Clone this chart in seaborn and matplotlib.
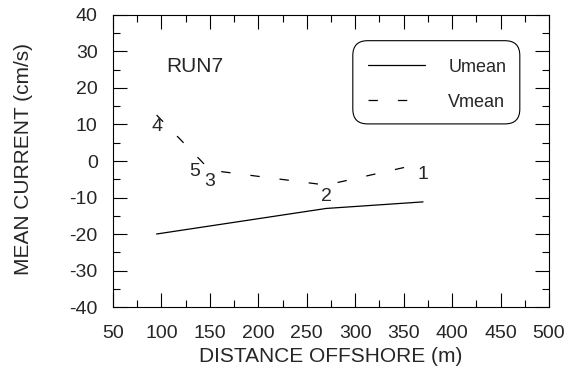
import matplotlib
matplotlib.use("Agg")
import matplotlib.pyplot as plt
from matplotlib.patches import FancyBboxPatch
from matplotlib.ticker import MultipleLocator
import pandas as pd
import seaborn as sns

# Station measurements for RUN7
stations = ["4", "5", "3", "2", "1"]
distance = [95, 140, 150, 270, 370]          # distance offshore (m)
umean = [-20.0, -18.2, -17.8, -13.0, -11.2]  # cm/s
vmean = [12.6, 0.3, -2.5, -6.6, -0.6]        # cm/s

x_ticks = list(range(50, 501, 50))
y_ticks = list(range(-40, 41, 10))

df = pd.DataFrame({
    "station": stations * 2,
    "distance": distance * 2,
    "value": umean + vmean,
    "component": ["Umean"] * len(stations) + ["Vmean"] * len(stations),
})

sns.set_style("ticks")
plt.rcParams["font.family"] = ["Liberation Sans", "DejaVu Sans"]
plt.rcParams["axes.unicode_minus"] = False

fig, ax = plt.subplots(figsize=(5.8, 3.72), dpi=100)
fig.subplots_adjust(left=0.1948, right=0.9466, bottom=0.1747, top=0.9597)

sns.lineplot(
    data=df, x="distance", y="value", style="component",
    dashes={"Umean": "", "Vmean": (7.5, 16)},
    color="black", linewidth=0.9, ax=ax, legend=True, sort=True,
)

# Station numbers just under each Vmean point
label_offsets = {"5": (-4, -8)}
for st, xd, yd in zip(stations, distance, vmean):
    dx, dy = label_offsets.get(st, (0, -8.5))
    ax.annotate(st, (xd, yd), xytext=(dx, dy), textcoords="offset points",
                ha="center", va="center", fontsize=14)

ax.set_xlim(50, 500)
ax.set_ylim(-40, 40)
ax.set_xticks(x_ticks)
ax.set_yticks(y_ticks)
ax.xaxis.set_minor_locator(MultipleLocator(25))
ax.yaxis.set_minor_locator(MultipleLocator(5))
ax.tick_params(which="both", direction="in", top=True, right=True,
               width=0.8, color="black")
ax.tick_params(which="major", length=10, labelsize=14)
ax.tick_params(which="minor", length=5)
ax.tick_params(axis="x", which="major", pad=13)
ax.tick_params(axis="y", which="major", pad=11)
for sp in ax.spines.values():
    sp.set_linewidth(0.8)
    sp.set_color("black")

ax.set_xlabel("DISTANCE OFFSHORE (m)", fontsize=15)
ax.set_ylabel("MEAN CURRENT (cm/s)", fontsize=15)
ax.xaxis.set_label_coords(0.5, -0.138)
ax.yaxis.set_label_coords(-0.183, 0.507)

ax.text(0.1216, 0.825, "RUN7", transform=ax.transAxes, va="center",
        ha="left", fontsize=15)

# Legend inside a rounded box
handles, labels = ax.get_legend_handles_labels()
leg = ax.legend(handles, labels, loc="upper left",
                bbox_to_anchor=(0.585, 0.851), frameon=False, fontsize=13,
                handlelength=3.15, handletextpad=1.3, labelspacing=1.0,
                borderpad=0, borderaxespad=0)
box = FancyBboxPatch((0.55, 0.627), 0.383, 0.285,
                     boxstyle="round,pad=0,rounding_size=0.034",
                     mutation_aspect=436 / 292, transform=ax.transAxes,
                     fc="white", ec="black", lw=0.8, zorder=1)
ax.add_patch(box)
leg.set_zorder(3)

fig.savefig("out.png", dpi=100)
